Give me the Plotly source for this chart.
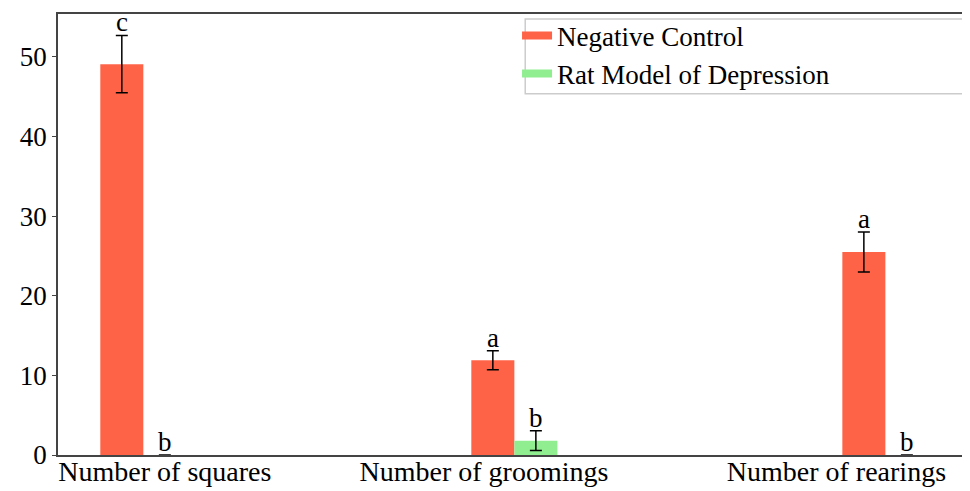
import plotly.graph_objects as go

categories = ["Number of squares", "Number of groomings", "Number of rearings"]
neg_control = [49.1, 11.9, 25.5]
neg_control_err = [3.6, 1.2, 2.5]
rat_model = [0.0, 1.8, 0.0]
rat_model_err = [0.0, 1.25, 0.0]
neg_letters = ["c", "a", "a"]
rat_letters = ["b", "b", "b"]
yticks = [0, 10, 20, 30, 40, 50]

bar_w = 0.116
xpos = list(range(len(categories)))
label_pos = [0.0, 0.86, 1.81]

NC_COLOR = "#FF6347"
RM_COLOR = "#90EE90"
font_fam = "Liberation Serif"

fig = go.Figure()
fig.add_trace(go.Bar(
    x=[p - bar_w for p in xpos], y=neg_control, width=bar_w,
    name="Negative Control", marker=dict(color=NC_COLOR, line=dict(width=0)),
    error_y=dict(type="data", array=neg_control_err, color="black", thickness=1.5, width=6),
    showlegend=False,
))
fig.add_trace(go.Bar(
    x=xpos, y=rat_model, width=bar_w,
    name="Rat Model of Depression", marker=dict(color=RM_COLOR, line=dict(width=0)),
    error_y=dict(type="data", array=rat_model_err, color="black", thickness=1.5, width=6),
    showlegend=False,
))
# legend entries (line-style swatches as in the original)
fig.add_trace(go.Scatter(x=[None], y=[None], mode="lines", name="Negative Control",
                         line=dict(color=NC_COLOR, width=8)))
fig.add_trace(go.Scatter(x=[None], y=[None], mode="lines", name="Rat Model of Depression",
                         line=dict(color=RM_COLOR, width=8)))

for i, p in enumerate(xpos):
    fig.add_annotation(x=p - bar_w, y=neg_control[i] + neg_control_err[i], text=neg_letters[i],
                       showarrow=False, yanchor="bottom", yshift=-4,
                       font=dict(family=font_fam, size=27, color="black"))
    fig.add_annotation(x=p, y=rat_model[i] + rat_model_err[i], text=rat_letters[i],
                       showarrow=False, yanchor="bottom", yshift=-4,
                       font=dict(family=font_fam, size=27, color="black"))

# legend frame (wide, like the original)
fig.add_shape(type="rect", xref="paper", yref="paper", x0=0.514, x1=0.9956, y0=0.8194, y1=0.9887,
              line=dict(color="#cccccc", width=1.5), fillcolor="rgba(255,255,255,0.9)", layer="below")

fig.update_layout(
    width=962, height=483,
    margin=dict(l=50, r=3, t=4, b=36),
    plot_bgcolor="white", paper_bgcolor="white",
    barmode="overlay",
    font=dict(family=font_fam, size=26, color="black"),
    showlegend=True,
    legend=dict(x=0.505, y=1.006, xanchor="left", yanchor="top",
                bgcolor="rgba(0,0,0,0)", borderwidth=0,
                font=dict(family=font_fam, size=27, color="black"), itemwidth=30,
                tracegroupgap=0),
    xaxis=dict(range=[-0.288, 2.162], tickvals=label_pos, ticktext=categories,
               showgrid=False, zeroline=False, showline=True, linecolor="#444444",
               linewidth=1.5, mirror=True, ticks="", automargin=False,
               ticklabelstandoff=-9, tickfont=dict(family=font_fam, size=28, color="black")),
    yaxis=dict(range=[0, 55.4], tickvals=yticks, showgrid=False, zeroline=False,
               showline=True, linecolor="#444444", linewidth=1.5, mirror=True,
               ticks="outside", ticklen=4, tickcolor="#444444", automargin=False,
               tickfont=dict(family=font_fam, size=27, color="black")),
)

fig.write_html("out.html")
